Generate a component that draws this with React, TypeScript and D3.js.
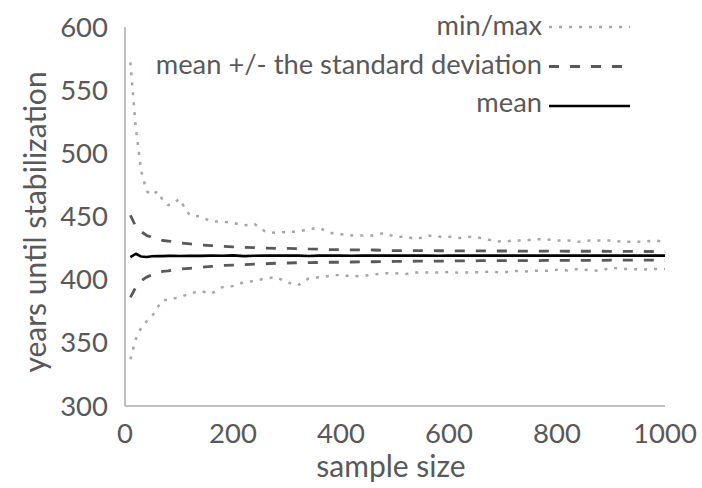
import React from "react";
import * as d3 from "d3";

const sampleSizes = [
  10, 20, 30, 40, 50, 60, 70, 80, 90, 100,
  120, 140, 160, 180, 200, 220, 240, 260, 280, 300,
  320, 340, 360, 380, 400, 420, 440, 460, 480, 500,
  520, 540, 560, 580, 600, 620, 640, 660, 680, 700,
  720, 740, 760, 780, 800, 820, 840, 860, 880, 900,
  920, 940, 960, 980, 1000,
];

const maxValues = [
  572, 520, 486, 470, 467, 470, 463, 459, 460, 464,
  451, 450, 446, 446, 445, 443, 444, 438, 437, 438,
  438, 440, 441, 437, 436, 435, 435, 435, 437, 434,
  434, 432, 435, 434, 434, 433, 434, 433, 431, 430,
  431, 431, 432, 432, 431, 431, 430, 431, 431, 431,
  430, 430, 430, 431, 430,
];

const minValues = [
  337, 353, 362, 367, 371, 378, 384, 384, 385, 386,
  389, 391, 389, 394, 395, 398, 399, 401, 402, 398,
  395.5, 401, 402, 403, 404, 402.5, 403, 404, 405, 405,
  404.5, 405.6, 405.6, 405.6, 406, 405.5, 405.7, 406, 406.4, 405.5,
  407, 406.4, 407, 407, 407.8, 407.2, 408.5, 407.5, 407, 409.5,
  408.5, 408.3, 408, 408.5, 408.5,
];

const upperSdValues = [
  451, 442, 438, 435, 433.5, 432.5, 431, 430.5, 430, 429.2,
  428.3, 427.5, 427, 426.5, 426, 425.6, 425.4, 425, 424.8, 424.8,
  424.6, 424.3, 424.2, 423.8, 423.7, 423.6, 423.6, 423.5, 423.2, 423,
  423, 423, 423, 422.9, 422.9, 422.8, 422.8, 422.8, 422.7, 422.7,
  422.7, 422.6, 422.6, 422.6, 422.6, 422.5, 422.5, 422.5, 422.5, 422.4,
  422.4, 422.4, 422.3, 422.3, 422.3,
];

const lowerSdValues = [
  386, 394, 399, 402, 404, 405.5, 406.5, 407, 407.8, 408.3,
  409, 409.8, 410.5, 411.2, 411.5, 411.8, 412.3, 412.6, 413, 413.2,
  413.4, 413.5, 413.6, 413.8, 413.8, 414, 414.1, 414.2, 414.3, 414.4,
  414.5, 414.6, 414.6, 414.7, 414.8, 414.9, 414.9, 415, 415, 415,
  415.1, 415.1, 415.1, 415.2, 415.2, 415.2, 415.3, 415.3, 415.3, 415.4,
  415.4, 415.4, 415.5, 415.5, 415.5,
];

const meanValues = [
  417.8, 420.5, 418.3, 418, 418.5, 418.6, 418.6, 418.8, 418.8, 418.7,
  418.8, 418.8, 419, 418.9, 419.2, 418.6, 418.9, 419, 419, 419.1,
  419, 418.7, 419, 419, 419, 418.9, 419, 419, 419, 419.1,
  419, 419, 419, 418.9, 419, 419, 419, 419, 419, 419,
  419, 419, 419, 419, 419, 419, 419, 419, 419, 419,
  419, 419, 419, 419, 419,
];

const xTicks = [0, 200, 400, 600, 800, 1000];
const yTicks = [300, 350, 400, 450, 500, 550, 600];

const legendItems = [
  { label: "min/max", kind: "dot" },
  { label: "mean +/- the standard deviation", kind: "dash" },
  { label: "mean", kind: "solid" },
];

const W = 702;
const H = 488;
const FONT = "Lato, 'Open Sans', sans-serif";
const TEXT = "#595959";

const styles: Record<string, { stroke: string; width: number; dash?: string }> = {
  dot: { stroke: "#a6a6a6", width: 2.5, dash: "3 7" },
  dash: { stroke: "#595959", width: 2.8, dash: "10 11" },
  solid: { stroke: "#000000", width: 2.6 },
};

export default function App() {
  const x = d3.scaleLinear().domain([0, 1000]).range([125, 665]);
  const y = d3.scaleLinear().domain([300, 600]).range([406, 27]);

  const mk = (vals: number[]) =>
    d3
      .line<number>()
      .x((_, i) => x(sampleSizes[i]))
      .y((v) => y(v))(vals) || "";

  const series = [
    { vals: maxValues, kind: "dot" },
    { vals: minValues, kind: "dot" },
    { vals: upperSdValues, kind: "dash" },
    { vals: lowerSdValues, kind: "dash" },
    { vals: meanValues, kind: "solid" },
  ];

  const legendBase = [35, 74, 112];
  const legendLineY = [27, 66.5, 106];

  return (
    <div style={{ position: "absolute", left: 0, top: 0 }}>
      <svg width={W} height={H} style={{ display: "block", background: "#fff" }}>
        <rect x={0} y={0} width={W} height={H} fill="#fff" />
        <line x1={x(0)} x2={x(0)} y1={y(600)} y2={y(300)} stroke="#bfbfbf" strokeWidth={2} />
        <line x1={x(0)} x2={x(1000)} y1={y(300)} y2={y(300)} stroke="#bfbfbf" strokeWidth={2} />
        {yTicks.map((t) => (
          <text
            key={"y" + t}
            x={108}
            y={y(t) + 9.5}
            textAnchor="end"
            fontFamily={FONT}
            fontSize={27.5}
            fill={TEXT}
          >
            {t}
          </text>
        ))}
        {xTicks.map((t) => (
          <text
            key={"x" + t}
            x={x(t)}
            y={443}
            textAnchor="middle"
            fontFamily={FONT}
            fontSize={27.5}
            fill={TEXT}
          >
            {t}
          </text>
        ))}
        <text
          x={391}
          y={477}
          textAnchor="middle"
          fontFamily={FONT}
          fontSize={30}
          fill={TEXT}
        >
          sample size
        </text>
        <text
          transform={`translate(46,${222}) rotate(-90)`}
          textAnchor="middle"
          fontFamily={FONT}
          fontSize={30}
          fill={TEXT}
        >
          years until stabilization
        </text>
        {series.map((s, i) => {
          const st = styles[s.kind];
          return (
            <path
              key={"s" + i}
              d={mk(s.vals)}
              fill="none"
              stroke={st.stroke}
              strokeWidth={st.width}
              strokeDasharray={st.dash}
              strokeLinejoin="round"
            />
          );
        })}
        {legendItems.map((it, i) => {
          const st = styles[it.kind];
          return (
            <g key={"l" + i}>
              <text
                x={542}
                y={legendBase[i]}
                textAnchor="end"
                fontFamily={FONT}
                fontSize={27.3}
                fill={TEXT}
              >
                {it.label}
              </text>
              <line
                x1={549}
                x2={630}
                y1={legendLineY[i]}
                y2={legendLineY[i]}
                stroke={st.stroke}
                strokeWidth={st.width}
                strokeDasharray={st.dash}
              />
            </g>
          );
        })}
      </svg>
    </div>
  );
}
